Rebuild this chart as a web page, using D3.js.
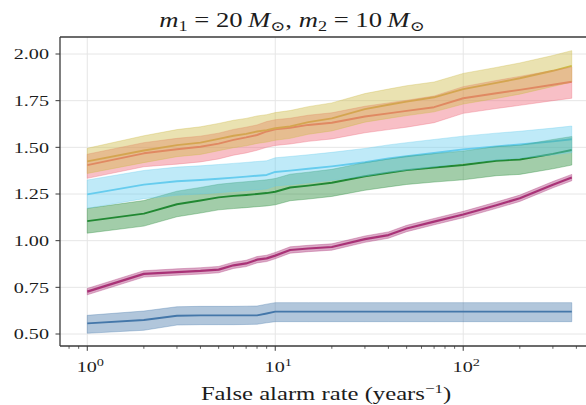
<!DOCTYPE html>
<html>
<head>
<meta charset="utf-8">
<script src="https://cdn.jsdelivr.net/npm/d3@7"></script>
<style>
  html, body { margin: 0; padding: 0; background: #fff; }
  svg { display: block; }
  text { font-family: "Liberation Serif", "DejaVu Serif", serif; fill: #1c1c1c; }
</style>
</head>
<body>
<svg id="chart" width="586" height="405"></svg>
<script>
// False alarm rate sample points (years^-1)
const far = [1, 2, 3, 4, 5, 6, 7, 8, 9, 10, 12, 15, 20, 30, 40, 50, 70, 100, 150, 200, 300, 378];

// Median curves and their lower / upper bounds, one set per population
const sandMid = [1.425, 1.483, 1.512, 1.525, 1.545, 1.562, 1.572, 1.585, 1.592, 1.602, 1.612, 1.635, 1.655, 1.705, 1.728, 1.745, 1.768, 1.812, 1.845, 1.870, 1.910, 1.936];
const sandLo  = [1.360, 1.418, 1.450, 1.462, 1.482, 1.498, 1.508, 1.521, 1.528, 1.538, 1.548, 1.570, 1.588, 1.635, 1.655, 1.670, 1.690, 1.732, 1.762, 1.785, 1.826, 1.850];
const sandHi  = [1.495, 1.562, 1.595, 1.610, 1.628, 1.645, 1.655, 1.668, 1.675, 1.686, 1.697, 1.718, 1.738, 1.788, 1.812, 1.830, 1.850, 1.896, 1.928, 1.952, 1.992, 2.018];

const roseMid = [1.405, 1.468, 1.490, 1.503, 1.520, 1.540, 1.553, 1.566, 1.585, 1.596, 1.605, 1.620, 1.632, 1.665, 1.682, 1.695, 1.715, 1.763, 1.790, 1.808, 1.835, 1.851];
const roseLo  = [1.334, 1.396, 1.410, 1.422, 1.438, 1.458, 1.470, 1.484, 1.500, 1.510, 1.518, 1.532, 1.545, 1.578, 1.595, 1.608, 1.632, 1.682, 1.708, 1.725, 1.750, 1.763];
const roseHi  = [1.463, 1.525, 1.548, 1.560, 1.576, 1.596, 1.608, 1.620, 1.638, 1.648, 1.656, 1.672, 1.685, 1.720, 1.738, 1.752, 1.775, 1.825, 1.858, 1.880, 1.912, 1.930];

const cyanMid = [1.248, 1.300, 1.318, 1.325, 1.332, 1.338, 1.343, 1.348, 1.352, 1.368, 1.375, 1.385, 1.398, 1.420, 1.440, 1.452, 1.470, 1.489, 1.505, 1.515, 1.532, 1.543];
const cyanLo  = [1.173, 1.225, 1.243, 1.250, 1.257, 1.263, 1.268, 1.273, 1.277, 1.293, 1.300, 1.310, 1.323, 1.346, 1.366, 1.378, 1.396, 1.416, 1.432, 1.442, 1.460, 1.472];
const cyanHi  = [1.325, 1.376, 1.394, 1.401, 1.408, 1.414, 1.419, 1.424, 1.428, 1.444, 1.451, 1.460, 1.473, 1.494, 1.513, 1.525, 1.542, 1.560, 1.576, 1.586, 1.603, 1.614];

const greenMid = [1.105, 1.145, 1.195, 1.215, 1.232, 1.240, 1.245, 1.250, 1.255, 1.262, 1.285, 1.295, 1.310, 1.345, 1.364, 1.378, 1.392, 1.405, 1.428, 1.435, 1.465, 1.486];
const greenLo  = [1.040, 1.078, 1.128, 1.148, 1.165, 1.172, 1.177, 1.182, 1.186, 1.192, 1.214, 1.223, 1.237, 1.270, 1.288, 1.301, 1.314, 1.326, 1.348, 1.355, 1.385, 1.405];
const greenHi  = [1.173, 1.215, 1.265, 1.285, 1.302, 1.310, 1.316, 1.321, 1.326, 1.333, 1.356, 1.367, 1.382, 1.418, 1.437, 1.452, 1.466, 1.480, 1.504, 1.511, 1.542, 1.558];

const purpleMid = [0.727, 0.822, 0.832, 0.838, 0.845, 0.868, 0.878, 0.898, 0.905, 0.920, 0.950, 0.958, 0.966, 1.008, 1.030, 1.065, 1.102, 1.140, 1.190, 1.227, 1.300, 1.338];
const purpleLo  = [0.710, 0.805, 0.815, 0.821, 0.828, 0.851, 0.861, 0.881, 0.888, 0.903, 0.933, 0.941, 0.949, 0.991, 1.013, 1.048, 1.085, 1.123, 1.173, 1.210, 1.283, 1.321];
const purpleHi  = [0.744, 0.839, 0.849, 0.855, 0.862, 0.885, 0.895, 0.915, 0.922, 0.937, 0.967, 0.975, 0.983, 1.025, 1.047, 1.082, 1.119, 1.157, 1.207, 1.244, 1.317, 1.355];

const blueMid = [0.557, 0.575, 0.598, 0.600, 0.600, 0.600, 0.600, 0.600, 0.610, 0.620, 0.620, 0.620, 0.620, 0.620, 0.620, 0.620, 0.620, 0.620, 0.620, 0.620, 0.620, 0.620];
const blueLo  = [0.504, 0.520, 0.548, 0.550, 0.550, 0.550, 0.551, 0.552, 0.560, 0.566, 0.566, 0.566, 0.566, 0.566, 0.566, 0.566, 0.566, 0.566, 0.566, 0.566, 0.566, 0.566];
const blueHi  = [0.600, 0.623, 0.646, 0.648, 0.648, 0.648, 0.649, 0.650, 0.660, 0.668, 0.668, 0.668, 0.668, 0.668, 0.668, 0.668, 0.668, 0.668, 0.668, 0.668, 0.668, 0.668];

const yTicks = [0.50, 0.75, 1.00, 1.25, 1.50, 1.75, 2.00];
const xMajorTicks = [1, 10, 100];
const xMajorLabels = ["0", "1", "2"];
const xMinorTicks = [0.8, 0.9, 2, 3, 4, 5, 6, 7, 8, 9, 20, 30, 40, 50, 60, 70, 80, 90, 200, 300, 400];

const series = [
  { color: "#4477AA", mid: blueMid, lo: blueLo, hi: blueHi, lw: 1.9 },
  { color: "#AA3377", mid: purpleMid, lo: purpleLo, hi: purpleHi, lw: 2.2 },
  { color: "#228833", mid: greenMid, lo: greenLo, hi: greenHi, lw: 1.9 },
  { color: "#66CCEE", mid: cyanMid, lo: cyanLo, hi: cyanHi, lw: 1.9 },
  { color: "#EE6677", mid: roseMid, lo: roseLo, hi: roseHi, lw: 1.9 },
  { color: "#CCBB44", mid: sandMid, lo: sandLo, hi: sandHi, lw: 1.9 }
];

const SX = 1.3; // horizontal stretch applied to text
const svg = d3.select("#chart");
const pLeft = 60, pRight = 598, pTop = 37, pBottom = 346;

const x = d3.scaleLog().domain([0.716, 450]).range([60, 586]);
const y = d3.scaleLinear().domain([0.50, 2.00]).range([334, 54]);

function label(g, px, py, anchor) {
  return g.append("text")
    .attr("transform", `translate(${px},${py}) scale(${SX},1)`)
    .attr("text-anchor", anchor);
}

// grid
const grid = svg.append("g").attr("stroke", "#e6e6e6").attr("stroke-width", 1);
yTicks.forEach(t => grid.append("line").attr("x1", pLeft).attr("x2", pRight).attr("y1", y(t)).attr("y2", y(t)));
xMajorTicks.forEach(t => grid.append("line").attr("x1", x(t)).attr("x2", x(t)).attr("y1", pTop).attr("y2", pBottom));

const idx = d3.range(far.length);
const plot = svg.append("g");

// median curves first, confidence bands drawn over them
series.forEach(s => {
  plot.append("path")
    .attr("d", d3.line().x(i => x(far[i])).y(i => y(s.mid[i]))(idx))
    .attr("fill", "none")
    .attr("stroke", s.color)
    .attr("stroke-width", s.lw)
    .attr("stroke-linejoin", "round");
});
series.forEach(s => {
  plot.append("path")
    .attr("d", d3.area().x(i => x(far[i])).y0(i => y(s.lo[i])).y1(i => y(s.hi[i]))(idx))
    .attr("fill", s.color)
    .attr("fill-opacity", 0.42)
    .attr("stroke", s.color)
    .attr("stroke-opacity", 0.42)
    .attr("stroke-width", 0.8);
});

// frame
const frame = svg.append("g").attr("stroke", "#3a3a3a").attr("stroke-width", 1.3).attr("fill", "none");
frame.append("line").attr("x1", pLeft).attr("x2", pLeft).attr("y1", pTop).attr("y2", pBottom);
frame.append("line").attr("x1", pLeft).attr("x2", pRight).attr("y1", pTop).attr("y2", pTop);
frame.append("line").attr("x1", pLeft).attr("x2", pRight).attr("y1", pBottom).attr("y2", pBottom);

// y axis ticks and labels
const yAxis = svg.append("g");
yTicks.forEach(t => {
  yAxis.append("line").attr("x1", pLeft - 4.5).attr("x2", pLeft).attr("y1", y(t)).attr("y2", y(t))
    .attr("stroke", "#3a3a3a").attr("stroke-width", 1);
  label(yAxis, 49, y(t) + 5.2, "end").attr("font-size", 15.5).text(d3.format(".2f")(t));
});

// x axis ticks and labels
const xAxis = svg.append("g");
xMinorTicks.forEach(t => {
  xAxis.append("line").attr("x1", x(t)).attr("x2", x(t)).attr("y1", pBottom).attr("y2", pBottom + 2.8)
    .attr("stroke", "#3a3a3a").attr("stroke-width", 0.8);
});
xMajorTicks.forEach((t, k) => {
  xAxis.append("line").attr("x1", x(t)).attr("x2", x(t)).attr("y1", pBottom).attr("y2", pBottom + 4.8)
    .attr("stroke", "#3a3a3a").attr("stroke-width", 1);
  const tx = label(xAxis, x(t) + 3, 372, "middle").attr("font-size", 15.5);
  tx.append("tspan").text("10");
  tx.append("tspan").attr("font-size", 11).attr("dy", -6.5).text(xMajorLabels[k]);
});

// axis title
const xl = label(svg, 326, 400, "middle").attr("font-size", 19);
xl.append("tspan").text("False alarm rate (years");
xl.append("tspan").attr("font-size", 13).attr("dy", -7.5).text("\u22121");
xl.append("tspan").attr("dy", 7.5).text(")");

// plot title
const tt = label(svg, 292, 27, "middle").attr("font-size", 20.5);
tt.append("tspan").attr("font-style", "italic").text("m");
tt.append("tspan").attr("font-size", 14).attr("dy", 4).text("1");
tt.append("tspan").attr("dy", -4).text(" = 20\u2009");
tt.append("tspan").attr("font-style", "italic").text("M");
tt.append("tspan").attr("font-size", 14).attr("dy", 4).text("\u2299");
tt.append("tspan").attr("dy", -4).text(", ");
tt.append("tspan").attr("font-style", "italic").text("m");
tt.append("tspan").attr("font-size", 14).attr("dy", 4).text("2");
tt.append("tspan").attr("dy", -4).text(" = 10\u2009");
tt.append("tspan").attr("font-style", "italic").text("M");
tt.append("tspan").attr("font-size", 14).attr("dy", 4).text("\u2299");
</script>
</body>
</html>
